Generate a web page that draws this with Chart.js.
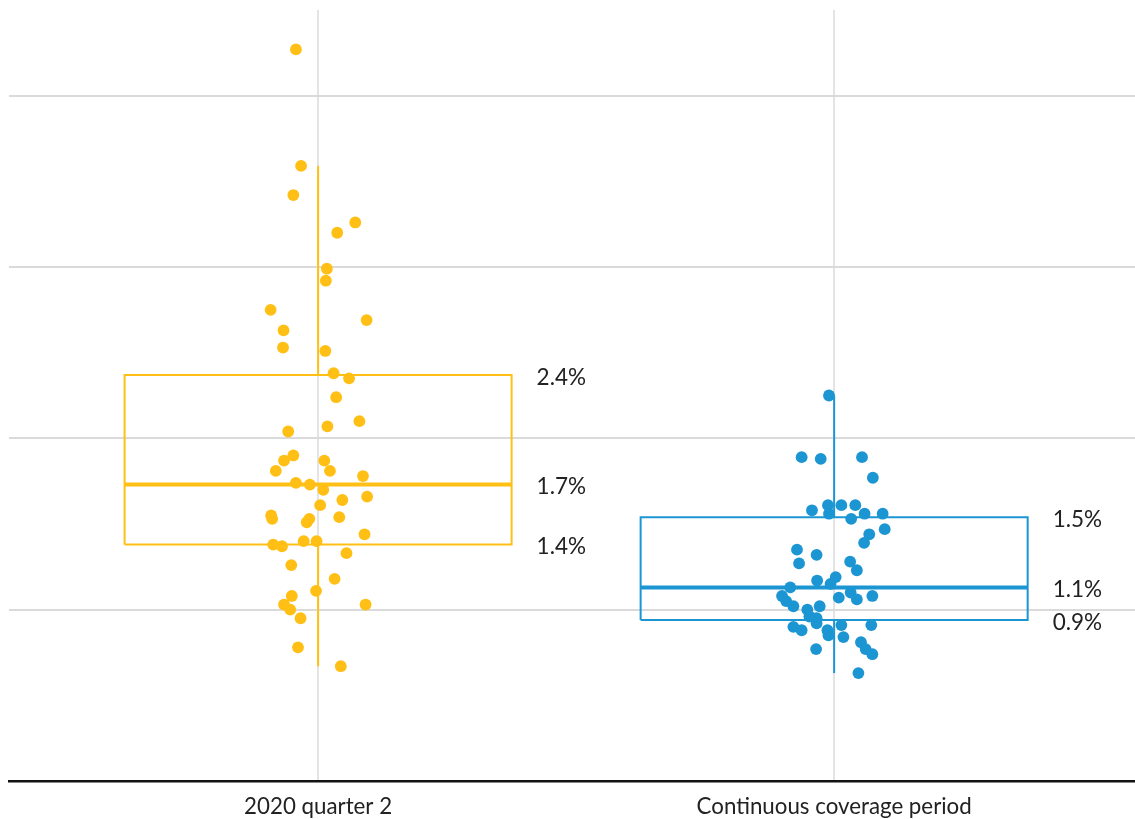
<!DOCTYPE html>
<html>
<head>
<meta charset="utf-8">
<script src="https://cdn.jsdelivr.net/npm/chart.js@4.4.1/dist/chart.umd.min.js"></script>
<style>
  html, body { margin: 0; padding: 0; background: #ffffff; }
  #wrap { width: 1135px; height: 819px; position: relative; }
</style>
</head>
<body>
<div id="wrap"><canvas id="chart"></canvas></div>
<script>
// Categories along the bottom axis
const categories = ['2020 quarter 2', 'Continuous coverage period'];

// Individual observations (percent) and their horizontal jitter (category units)
const q2Values = [4.27, 3.59, 3.42, 3.26, 3.20, 2.99, 2.92, 2.75, 2.69, 2.63, 2.53, 2.51,
  2.38, 2.35, 2.24, 2.10, 2.07, 2.04, 1.90, 1.87, 1.87, 1.81, 1.81, 1.78, 1.74, 1.73,
  1.70, 1.66, 1.64, 1.61, 1.55, 1.53, 1.53, 1.51, 1.54, 1.44, 1.38, 1.37, 1.40, 1.40,
  1.33, 1.26, 1.18, 1.11, 1.08, 1.03, 1.00, 1.03, 0.95, 0.78, 0.67];
const q2Jitter = [-0.043, -0.033, -0.048, 0.072, 0.037, 0.017, 0.015, -0.092, 0.094, -0.067,
  -0.068, 0.014, 0.030, 0.060, 0.035, 0.080, 0.018, -0.058, -0.048, -0.066, 0.012, -0.082,
  0.023, 0.087, -0.043, -0.016, 0.010, 0.095, 0.047, 0.004, -0.091, -0.089, -0.017, -0.022,
  0.041, 0.090, -0.087, -0.070, -0.028, -0.003, 0.055, -0.052, 0.032, -0.004, -0.051, -0.066,
  -0.054, 0.092, -0.034, -0.039, 0.044];

const ccValues = [2.25, 1.89, 1.88, 1.89, 1.77, 1.58, 1.61, 1.56, 1.61, 1.61, 1.53, 1.56,
  1.56, 1.47, 1.44, 1.39, 1.35, 1.32, 1.27, 1.28, 1.23, 1.19, 1.17, 1.15, 1.13, 1.08, 1.07,
  1.10, 1.06, 1.08, 1.05, 1.02, 1.02, 1.00, 0.96, 0.95, 0.92, 0.90, 0.88, 0.88, 0.85, 0.91,
  0.84, 0.91, 0.81, 0.77, 0.74, 0.77, 0.63];
const ccJitter = [-0.010, -0.063, -0.026, 0.054, 0.075, -0.043, -0.012, -0.010, 0.014, 0.041,
  0.033, 0.059, 0.094, 0.098, 0.068, 0.058, -0.072, -0.034, -0.068, 0.031, 0.044, 0.003,
  -0.033, -0.007, -0.085, -0.101, 0.009, 0.032, 0.044, 0.074, -0.093, -0.079, -0.028, -0.052,
  -0.048, -0.034, -0.034, -0.079, -0.063, -0.013, -0.011, 0.014, 0.018, 0.072, 0.052, 0.061,
  0.074, -0.035, 0.047];

// Box-plot summary per category (percent)
const whiskerLow  = [0.67, 0.63];
const boxLow      = [1.38, 0.94];
const medians     = [1.73, 1.13];
const boxHigh     = [2.37, 1.54];
const whiskerHigh = [3.59, 2.25];

// Horizontal reference lines
const yTicks = [0, 1, 2, 3, 4];

const colors = ['#FFBF14', '#1C96D3'];
const BOX_HALF = 0.375;   // half of box width, in category units
const LABEL_GAP = 25;     // pixels between box edge and its value labels

const pointSets = [q2Values.map((v, i) => ({ x: 0 + q2Jitter[i], y: v })),
                   ccValues.map((v, i) => ({ x: 1 + ccJitter[i], y: v }))];

const lineStyle = (color, width) => ({
  type: 'line', showLine: true, fill: false, pointRadius: 0, pointHoverRadius: 0,
  borderColor: color, borderWidth: width, borderJoinStyle: 'miter', borderCapStyle: 'butt',
  tension: 0
});

const datasets = [];
categories.forEach((c, i) => {
  datasets.push({
    type: 'scatter', data: pointSets[i], backgroundColor: colors[i], borderWidth: 0,
    pointRadius: 5.9, pointHoverRadius: 5.9, order: 0
  });
});
categories.forEach((c, i) => {
  datasets.push(Object.assign(lineStyle(colors[i], 2), {
    order: 2,
    data: [{ x: i - BOX_HALF, y: boxLow[i] }, { x: i + BOX_HALF, y: boxLow[i] },
           { x: i + BOX_HALF, y: boxHigh[i] }, { x: i - BOX_HALF, y: boxHigh[i] },
           { x: i - BOX_HALF, y: boxLow[i] }]
  }));
  datasets.push(Object.assign(lineStyle(colors[i], 4), {
    order: 1,
    data: [{ x: i - BOX_HALF, y: medians[i] }, { x: i + BOX_HALF, y: medians[i] }]
  }));
  datasets.push(Object.assign(lineStyle(colors[i], 2), {
    order: 2,
    data: [{ x: i, y: boxHigh[i] }, { x: i, y: whiskerHigh[i] }]
  }));
  datasets.push(Object.assign(lineStyle(colors[i], 2), {
    order: 2,
    data: [{ x: i, y: whiskerLow[i] }, { x: i, y: boxLow[i] }]
  }));
});

// Writes the quartile values beside each box
const boxLabels = {
  id: 'boxLabels',
  afterDatasetsDraw(chart) {
    const { ctx, scales: { x, y } } = chart;
    ctx.save();
    ctx.font = '22.5px Lato';
    ctx.fillStyle = '#222222';
    ctx.textAlign = 'left';
    ctx.textBaseline = 'middle';
    categories.forEach((c, i) => {
      const px = x.getPixelForValue(i + BOX_HALF) + LABEL_GAP;
      [boxHigh[i], medians[i], boxLow[i]].forEach(v => {
        ctx.fillText(v.toFixed(1) + '%', px, y.getPixelForValue(v) + 2.5);
      });
    });
    ctx.restore();
  }
};

Chart.defaults.font.family = 'Lato';
new Chart(document.getElementById('chart'), {
  type: 'scatter',
  data: { datasets },
  plugins: [boxLabels],
  options: {
    responsive: true,
    maintainAspectRatio: false,
    animation: false,
    layout: { autoPadding: false, padding: { left: 9, top: 10, right: 0, bottom: 0 } },
    plugins: { legend: { display: false }, tooltip: { enabled: false } },
    scales: {
      x: {
        type: 'linear',
        min: -0.599,
        max: 1.583,
        afterBuildTicks: s => { s.ticks = categories.map((c, i) => ({ value: i })); },
        afterFit: s => { s.height = 38; },
        ticks: {
          callback: v => categories[v],
          font: { size: 22.3 },
          color: '#222222',
          padding: 12,
          maxRotation: 0,
          autoSkip: false
        },
        grid: { color: '#e4e4e4', lineWidth: 2, drawTicks: false },
        border: { display: true, color: '#111111', width: 2.5 }
      },
      y: {
        min: 0,
        max: 4.5,
        afterBuildTicks: s => { s.ticks = yTicks.map(v => ({ value: v })); },
        afterFit: s => { s.width = 0; },
        ticks: { display: false },
        grid: { color: '#dadada', lineWidth: 2, drawTicks: false },
        border: { display: false }
      }
    }
  }
});
</script>
</body>
</html>
